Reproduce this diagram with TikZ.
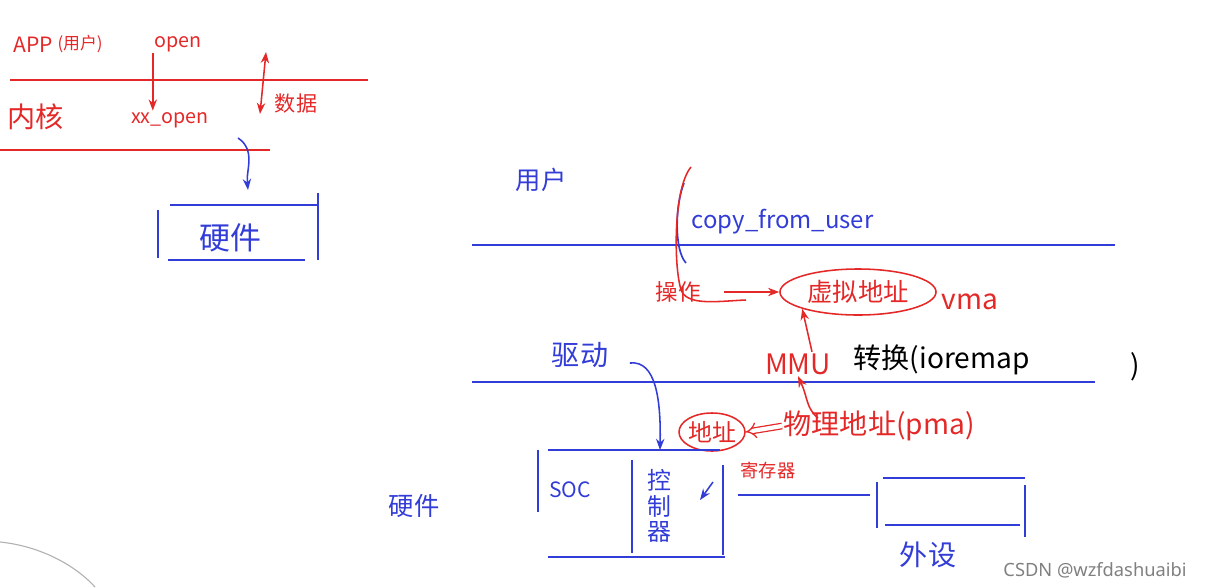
\documentclass[tikz,border=0pt]{standalone}
\usepackage{fontspec}
\newfontfamily\cjk{Noto Sans CJK SC}
\newfontfamily\wmfont{Noto Sans}
\usetikzlibrary{positioning,arrows.meta,shapes.geometric,calc}
\definecolor{inkred}{RGB}{228,40,40}
\definecolor{inkblue}{RGB}{50,60,215}
\newcommand{\fs}[1]{\cjk\fontsize{#1}{#1}\selectfont}

\begin{document}
\begin{tikzpicture}[x=0.025cm,y=-0.025cm,>=Stealth]
  \tikzset{
    rtxt/.style={text=inkred,inner sep=1pt,font=\fs{17}},
    btxt/.style={text=inkblue,inner sep=1pt,font=\fs{17}},
    ktxt/.style={text=black,inner sep=1pt,font=\fs{20}},
    rline/.style={draw=inkred,line width=1.2pt},
    bline/.style={draw=inkblue,line width=1.2pt},
    rarr/.style={->,draw=inkred,line width=1.1pt},
    barr/.style={->,draw=inkblue,line width=1.1pt},
    ring/.style={ellipse,draw=inkred,line width=1.1pt,inner sep=0pt}}
  \useasboundingbox (0,0) rectangle (1206,587);

  % left: user / kernel / hardware
  \node[rtxt,font=\fs{15}] (app) at (33,45){APP};
  \node[rtxt,font=\fs{12},right=1pt of app.south east,anchor=south west] (appuser){(用户)};
  \node[rtxt,font=\fs{14}] (open) at (178,44){open};
  \draw[rline] (10,80) -- (368,80);
  \node[rtxt,font=\fs{20}] (kern) at (36,117){内核};
  \node[rtxt,font=\fs{14}] (xxopen) at (170,120){xx\_open};
  \draw[rarr] (open.south west) -- (open.south west |- xxopen.north);
  \coordinate (dtop) at (266,52);
  \coordinate (dbot) at (260,114);
  \draw[rarr,<->] (dtop) -- (dbot);
  \node[rtxt,font=\fs{15}] (data) at (296,104){数据};
  \draw[rline] (0,150) -- (270,150);
  \coordinate (kin) at (238,138);
  \coordinate (hwtop) at (248,190);
  \draw[barr] (kin) .. controls (256,150) and (246,170) .. (hwtop);
  \draw[bline] (170,205) -- (318,205) (318,193) -- (318,260)
    (158,210) -- (158,258) (168,260) -- (305,260);
  \node[btxt,font=\fs{22}] (hw) at (230,238){硬件};

  % right: user space
  \node[btxt,font=\fs{18}] (user) at (541,180){用户};
  \draw[bline] (472,245) -- (1115,245);
  \node[btxt,font=\fs{17},anchor=west] (cfu) at (690,222){copy\_from\_user};
  \draw[bline] (684,183) .. controls (675,205) and (674,250) .. (686,263);
  \draw[inkred,line width=1.1pt] (691,167) .. controls (672,190) and (674,275) .. (682,292)
    .. controls (690,306) and (720,301) .. (746,300);
  \node[rtxt,font=\fs{16}] (op) at (678,292){操作};
  \node[ring,minimum width=3.9cm,minimum height=1.15cm] (vaddr) at (858,292){};
  \node[rtxt,font=\fs{18}] (vaddrt) at (vaddr){虚拟地址};
  \draw[rarr] (op.east) ++(22,0) -- (vaddr.west);
  \node[rtxt,font=\fs{20}] (vma) at (970,302){vma};
  \node[rtxt,font=\fs{20}] (mmu) at (798,364){MMU};
  \draw[rarr] ($(mmu.north)+(14,0)$) -- (vaddr.south west);
  \node[ktxt,anchor=west] (conv) at (852,360){转换(ioremap};
  \node[ktxt] (rpar) at (1135,367){)};
  \draw[bline] (472,382) -- (1095,382);
  \coordinate (pmup) at (818,418);
  \draw[rarr] (pmup) .. controls (806,408) and (808,398) .. (mmu.south);

  % right: driver / hardware
  \node[btxt,font=\fs{20}] (drv) at (580,355){驱动};
  \node[ring,minimum width=1.65cm,minimum height=0.95cm] (addr) at (712,432){};
  \node[rtxt,font=\fs{17}] (addrt) at (addr){地址};
  \node[rtxt,font=\fs{20},anchor=west] (paddr) at (782,426){物理地址(pma)};
  \draw[inkred,line width=0.9pt,double,double distance=3pt,-{Implies}] (paddr.west) -- (addr.east);
  \node[rtxt,font=\fs{13}] (reg) at (768,470){寄存器};
  \coordinate (ctltop) at (660,450);
  \draw[barr] (drv.east) ++(20,8) .. controls (656,360) and (661,400) .. (ctltop);
  \draw[bline] (548,450) -- (720,450) (538,450) -- (538,512)
    (548,557) -- (725,557) (723,465) -- (723,555) (632,460) -- (632,553);
  \node[btxt,font=\fs{15}] (soc) at (570,490){SOC};
  \node[btxt,font=\fs{17},align=center] (ctl) at (659,506){控\\[1pt]制\\[1pt]器};
  \coordinate (ctlin) at (713,482);
  \coordinate (ctlout) at (700,500);
  \draw[barr] (ctlin) -- (ctlout);
  \node[btxt,font=\fs{18}] (hw2) at (414,506){硬件};
  \draw[bline] (738,495) -- (870,495);
  \draw[bline] (883,478) -- (1025,478) (877,482) -- (877,528)
    (1025,485) -- (1025,537) (885,525) -- (1020,525);
  \node[btxt,font=\fs{20}] (dev) at (928,555){外设};
  \node[text=gray,inner sep=0pt,font=\wmfont\fontsize{13}{13}\selectfont] (wm) at (1095,570){CSDN @wzfdashuaibi};
  \draw[gray!60,line width=0.8pt] (0,542) .. controls (40,546) and (75,565) .. (95,587);
\end{tikzpicture}
\end{document}
